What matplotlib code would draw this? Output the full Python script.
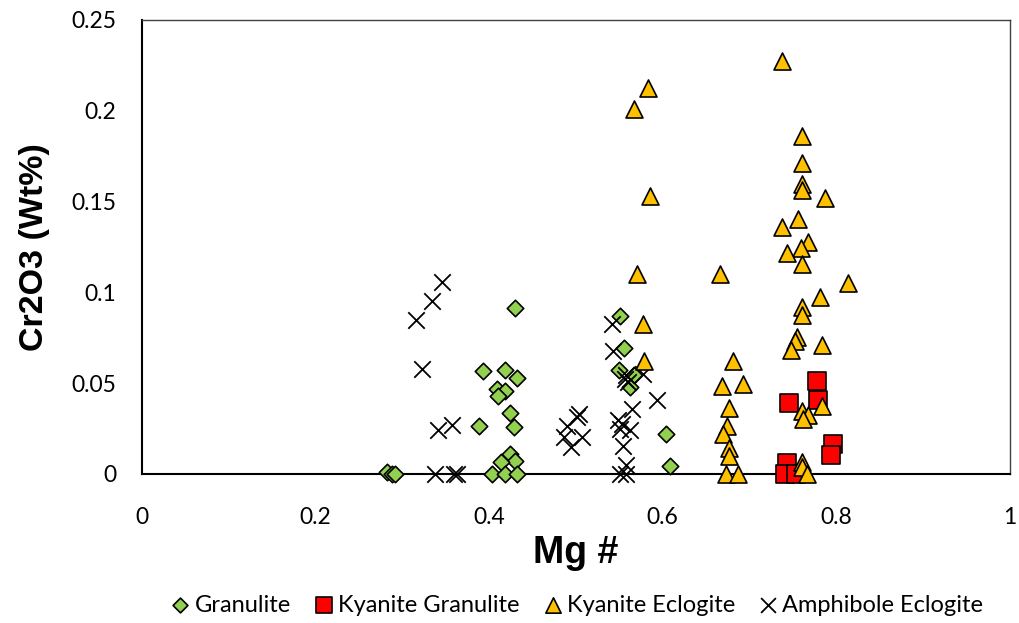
import matplotlib
matplotlib.use("Agg")
import matplotlib.pyplot as plt
from matplotlib.ticker import FuncFormatter

# Granulite
gran_x = [0.283, 0.288, 0.292, 0.430, 0.393, 0.418, 0.432, 0.409, 0.418, 0.410, 0.424, 0.429,
          0.389, 0.424, 0.430, 0.414, 0.404, 0.418, 0.432,
          0.551, 0.555, 0.550, 0.567, 0.562, 0.604, 0.608]
gran_y = [0.001, 0.0, 0.0, 0.0916, 0.0566, 0.0574, 0.053, 0.047, 0.0457, 0.0428, 0.0336, 0.026,
          0.0267, 0.0108, 0.0071, 0.0064, 0.0, 0.0, 0.0,
          0.0872, 0.0694, 0.057, 0.0547, 0.0479, 0.0223, 0.0046]

# Kyanite Granulite
kg_x = [0.778, 0.746, 0.779, 0.796, 0.794, 0.743, 0.741, 0.754]
kg_y = [0.051, 0.0393, 0.041, 0.0163, 0.0104, 0.0062, 0.0, 0.0]

# Kyanite Eclogite
ke_x = [0.738, 0.583, 0.567, 0.586, 0.570, 0.578, 0.579,
        0.760, 0.761, 0.760, 0.760, 0.787, 0.737, 0.756, 0.767, 0.759, 0.743, 0.761,
        0.666, 0.813, 0.781, 0.760, 0.761, 0.755, 0.753, 0.748, 0.784,
        0.681, 0.668, 0.692, 0.677, 0.674, 0.670, 0.677, 0.676, 0.673, 0.687,
        0.760, 0.767, 0.762, 0.784, 0.760, 0.761, 0.766]
ke_y = [0.2273, 0.2127, 0.2008, 0.153, 0.1104, 0.0826, 0.0621,
        0.1862, 0.1713, 0.1597, 0.1562, 0.152, 0.136, 0.1405, 0.1279, 0.1246, 0.1215, 0.1159,
        0.1104, 0.1054, 0.0972, 0.0917, 0.0875, 0.0757, 0.0731, 0.0684, 0.0713,
        0.0621, 0.0484, 0.0497, 0.0366, 0.0263, 0.0218, 0.0144, 0.010, 0.0, 0.0,
        0.0347, 0.0327, 0.0305, 0.0373, 0.0067, 0.004, 0.0]

# Amphibole Eclogite
ae_x = [0.346, 0.334, 0.316, 0.323, 0.357, 0.341, 0.338, 0.363, 0.360,
        0.542, 0.543, 0.558, 0.557, 0.560, 0.578, 0.594, 0.565, 0.504, 0.501, 0.490,
        0.507, 0.487, 0.495, 0.549, 0.553, 0.562, 0.551, 0.554, 0.558, 0.551, 0.558]
ae_y = [0.106, 0.095, 0.0848, 0.058, 0.0269, 0.0241, 0.0, 0.0, 0.0,
        0.0826, 0.068, 0.0543, 0.0525, 0.0506, 0.0552, 0.0406, 0.036, 0.0329, 0.0314, 0.0263,
        0.0205, 0.0205, 0.015, 0.0296, 0.0278, 0.0241, 0.025, 0.0154, 0.0049, 0.0, 0.0]

x_ticks = [0, 0.2, 0.4, 0.6, 0.8, 1.0]
y_ticks = [0, 0.05, 0.1, 0.15, 0.2, 0.25]

W, H = 1019, 623
fig = plt.figure(figsize=(W / 100, H / 100), dpi=100)
ax_l, ax_r, ax_t, ax_b = 141.5, 1010, 20, 474
ax = fig.add_axes([ax_l / W, 1 - ax_b / H, (ax_r - ax_l) / W, (ax_b - ax_t) / H])

tick_font = "Lato"
ax.scatter(gran_x, gran_y, marker='D', s=70, c='#92d050', edgecolors='black', linewidths=1.2,
           label='Granulite', zorder=3, clip_on=False)
ax.scatter(kg_x, kg_y, marker='s', s=150, c='#ff0000', edgecolors='black', linewidths=1.2,
           label='Kyanite Granulite', zorder=3, clip_on=False)
ax.scatter(ke_x, ke_y, marker='^', s=150, c='#ffc000', edgecolors='black', linewidths=1.2,
           label='Kyanite Eclogite', zorder=4, clip_on=False)
ax.scatter(ae_x, ae_y, marker='x', s=140, c='black', linewidths=1.3,
           label='Amphibole Eclogite', zorder=3, clip_on=False)

ax.set_xlim(0, 1)
ax.set_ylim(0, 0.25)
ax.set_xticks(x_ticks)
ax.set_yticks(y_ticks)
fmt = FuncFormatter(lambda v, p: ('%g' % round(v, 2)))
ax.xaxis.set_major_formatter(fmt)
ax.yaxis.set_major_formatter(fmt)
ax.tick_params(length=0, labelsize=16.5)
ax.tick_params(axis='x', pad=23.5)
ax.tick_params(axis='y', pad=18)
for lab in ax.get_xticklabels() + ax.get_yticklabels():
    lab.set_fontfamily(tick_font)

for side in ['left', 'bottom']:
    ax.spines[side].set_linewidth(1.5)
    ax.spines[side].set_color('black')
for side in ['top', 'right']:
    ax.spines[side].set_linewidth(1.0)
    ax.spines[side].set_color('#404040')

ax.set_xlabel('Mg #', fontsize=27, fontweight='bold', family='Liberation Sans')
ax.xaxis.set_label_coords(0.5, (ax_b - 535) / (ax_b - ax_t))
ax.set_ylabel('Cr2O3 (Wt%)', fontsize=24.5, fontweight='bold', family='Liberation Sans')
ax.yaxis.set_label_coords((50 - ax_l) / (ax_r - ax_l), 0.5)

leg = fig.legend(loc='center', bbox_to_anchor=(577 / W, 1 - 605 / H), ncol=4, frameon=False,
                 prop={'family': tick_font, 'size': 17}, handletextpad=0.2, columnspacing=1.0,
                 markerscale=0.9, handlelength=0.8)

fig.savefig('out.png', dpi=100)
